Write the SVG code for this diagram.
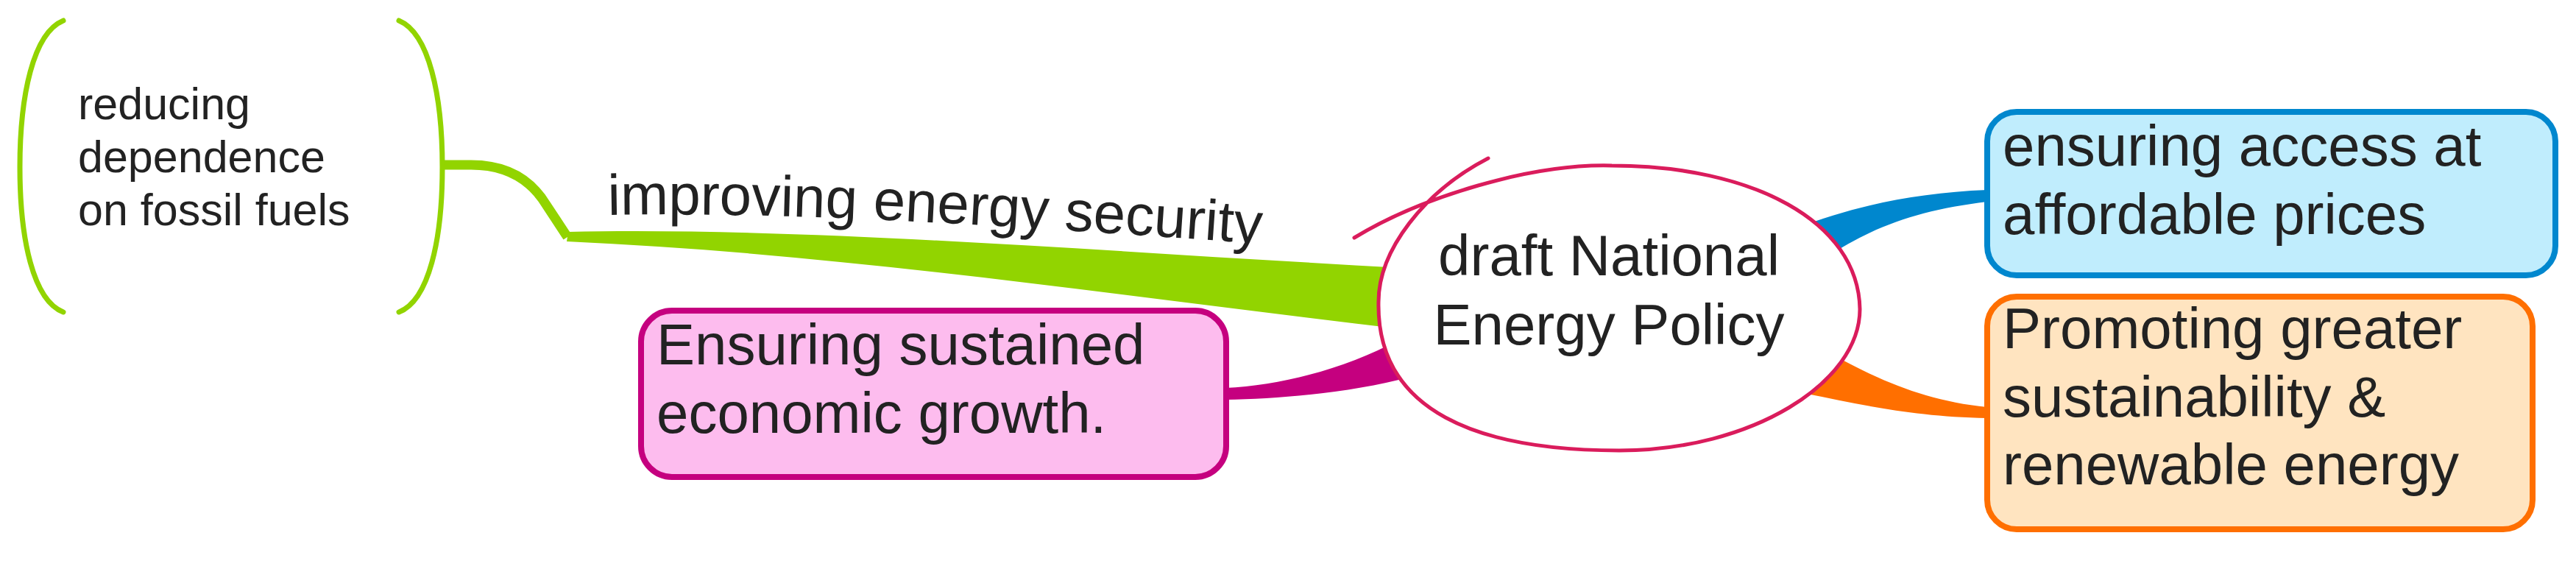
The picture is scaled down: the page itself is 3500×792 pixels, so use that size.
<svg xmlns="http://www.w3.org/2000/svg" width="3500" height="792" viewBox="0 0 3500 792">
<style>
.t{font-family:"Liberation Sans",Arial,Helvetica,sans-serif;fill:#222222}
.big{font-size:78px}
.small{font-size:61px}
.brace{fill:none;stroke:#92D400;stroke-width:7;stroke-linecap:round}
.box{stroke-width:8}
</style>
<defs>
<path id="secPath" d="M 826,292 C 1150,286 1500,318 1900,343"/>
</defs>
<rect x="0" y="0" width="3500" height="792" fill="#FFFFFF"/>
<g id="connectors">
<path d="M 601,224 H 640 C 690,224 722,245 742,278 L 771,322" fill="none" stroke="#92D400" stroke-width="13" stroke-linejoin="round"/>
<path d="M 772,315 C 1100,308 1500,342 1905,364 L 1905,447 C 1520,402 1150,345 770,328 Z" fill="#92D400"/>
<path d="M 1665,527 C 1740,524 1830,500 1900,462 L 1915,512 C 1840,533 1740,542 1665,543 Z" fill="#C5007F"/>
<path d="M 2440,310 C 2520,280 2600,262 2700,258 L 2700,274 C 2610,285 2550,305 2480,350 Z" fill="#0087CE"/>
<path d="M 2490,482 C 2560,520 2620,545 2700,553 L 2700,568 C 2600,566 2530,550 2455,535 Z" fill="#FF6F00"/>
<text class="t big"><textPath href="#secPath">improving energy security</textPath></text>
</g>
<g id="node-center">
<path d="M 2022,215 C 1935,260 1873,340 1873,410 C 1870,560 2010,612 2200,612 C 2380,612 2527,520 2527,420 C 2525,300 2380,225 2190,225 C 2080,222 1930,268 1840,323" fill="#FFFFFF" stroke="#DA1C5C" stroke-width="5" stroke-linecap="round"/>
<text class="t big" text-anchor="middle"><tspan x="2186" y="374">draft National</tspan><tspan x="2186" y="468">Energy Policy</tspan></text>
</g>
<g id="node-fossil">
<path class="brace" d="M 86,28 C 45,45 27,130 27,227 C 27,325 45,408 86,424"/>
<path class="brace" d="M 542,28 C 583,45 601,130 601,227 C 601,325 583,408 542,424"/>
<text class="t small"><tspan x="106" y="162">reducing</tspan><tspan x="106" y="234">dependence</tspan><tspan x="106" y="306">on fossil fuels</tspan></text>
</g>
<g id="node-growth">
<rect class="box" x="871" y="422" width="795" height="226" rx="42" fill="#FDBCEE" stroke="#C5007F"/>
<text class="t big"><tspan x="892" y="495">Ensuring sustained</tspan><tspan x="892" y="588">economic growth.</tspan></text>
</g>
<g id="node-access">
<rect class="box" x="2700" y="152" width="772" height="222" rx="40" fill="#C0EDFD" stroke="#0087CE"/>
<text class="t big"><tspan x="2721" y="225">ensuring access at</tspan><tspan x="2721" y="318">affordable prices</tspan></text>
</g>
<g id="node-sustainability">
<rect class="box" x="2700" y="403" width="741" height="316" rx="40" fill="#FFE4C0" stroke="#FF6F00"/>
<text class="t big"><tspan x="2721" y="473">Promoting greater</tspan><tspan x="2721" y="566">sustainability &amp;</tspan><tspan x="2721" y="658">renewable energy</tspan></text>
</g>
</svg>
